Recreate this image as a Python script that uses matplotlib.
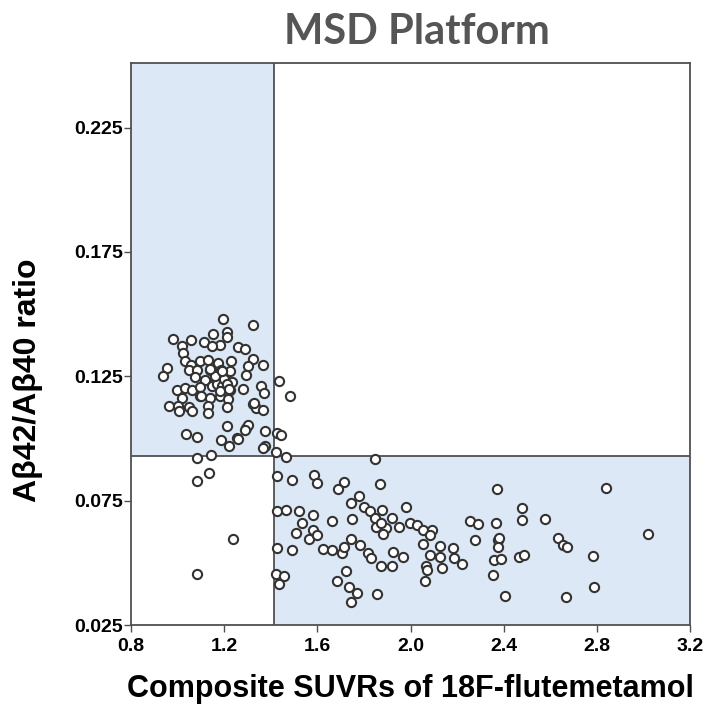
import numpy as np
import matplotlib.pyplot as plt

# upper-left cluster (low SUVR, high ratio)
cluster_x = [1.194, 1.322, 0.979, 1.056, 1.113, 1.151, 1.214, 1.211, 1.182, 1.146,
             1.018, 1.025, 1.261, 1.290, 1.032, 1.056, 1.096, 1.132, 1.175, 1.228,
             1.322, 1.365, 0.956, 0.936, 1.050, 1.085, 1.139, 1.185, 1.225, 1.304,
             1.294, 1.075, 1.118, 1.161, 1.204, 1.232, 1.435, 1.357, 1.371, 1.483,
             0.996, 1.032, 1.060, 1.096, 1.146, 1.189, 1.225, 1.279, 1.018, 1.096,
             1.139, 1.182, 1.218, 0.965, 1.003, 1.050, 1.132, 1.211, 1.008, 1.060,
             1.132, 1.325, 1.337, 1.368, 1.214, 1.294, 1.304, 1.036, 1.082, 1.185,
             1.222, 1.257, 1.375, 1.425, 1.442, 1.170, 1.190, 1.200, 1.180, 1.210,
             1.160, 1.190, 1.220, 1.140, 1.100, 1.258, 1.373, 1.330, 1.289]
cluster_y = [0.1480, 0.1455, 0.1400, 0.1397, 0.1390, 0.1420, 0.1427, 0.1408, 0.1377, 0.1370,
             0.1370, 0.1343, 0.1367, 0.1359, 0.1310, 0.1296, 0.1310, 0.1314, 0.1303, 0.1310,
             0.1319, 0.1296, 0.1283, 0.1252, 0.1274, 0.1276, 0.1274, 0.1274, 0.1270, 0.1290,
             0.1256, 0.1247, 0.1236, 0.1243, 0.1236, 0.1229, 0.1232, 0.1212, 0.1182, 0.1169,
             0.1196, 0.1202, 0.1196, 0.1207, 0.1212, 0.1202, 0.1196, 0.1198, 0.1162, 0.1169,
             0.1162, 0.1169, 0.1158, 0.1129, 0.1131, 0.1126, 0.1131, 0.1126, 0.1109, 0.1109,
             0.1102, 0.1139, 0.1122, 0.1115, 0.1051, 0.1042, 0.1055, 0.1019, 0.1008, 0.0995,
             0.0971, 0.1001, 0.1031, 0.1024, 0.1015, 0.1220, 0.1210, 0.1240, 0.1190, 0.1220,
             0.1250, 0.1270, 0.1200, 0.1280, 0.1170, 0.0997, 0.0968, 0.1142, 0.1035]

# rest of the subjects
other_x = [1.368, 1.423, 1.466, 1.848, 1.428, 1.490, 1.586, 1.597, 1.715, 1.690,
           1.869, 1.780, 1.743, 1.981, 1.798, 1.826, 1.876, 1.848, 1.428, 1.466,
           1.523, 1.580, 1.662, 1.748, 1.533, 1.919, 1.852, 1.895, 1.883, 1.952,
           1.998, 2.029, 2.055, 2.091, 2.084, 2.253, 2.291, 1.508, 1.583, 1.566,
           1.597, 1.743, 1.783, 1.428, 1.490, 1.626, 1.662, 1.704, 1.715, 1.819,
           1.829, 1.924, 1.969, 2.052, 2.127, 2.181, 2.084, 2.127, 2.184, 2.220,
           2.277, 1.872, 1.919, 2.067, 2.070, 2.134, 1.423, 1.457, 1.437, 1.723,
           1.686, 1.737, 1.769, 1.855, 2.060, 1.743, 1.872,
           2.370, 2.840, 2.367, 2.477, 2.477, 2.578, 2.373, 2.381, 2.373, 2.359,
           2.387, 2.467, 2.485, 2.631, 2.653, 2.671, 2.782, 3.017, 2.353, 2.788,
           2.406, 2.668,
           1.082, 1.142, 1.085, 1.135, 1.239, 1.082]
other_y = [0.0961, 0.0944, 0.0925, 0.0917, 0.0850, 0.0834, 0.0854, 0.0820, 0.0824, 0.0796,
           0.0816, 0.0769, 0.0742, 0.0724, 0.0726, 0.0709, 0.0713, 0.0679, 0.0709, 0.0713,
           0.0709, 0.0691, 0.0669, 0.0675, 0.0662, 0.0679, 0.0643, 0.0639, 0.0615, 0.0643,
           0.0662, 0.0652, 0.0632, 0.0632, 0.0612, 0.0669, 0.0655, 0.0619, 0.0632, 0.0595,
           0.0610, 0.0595, 0.0572, 0.0559, 0.0552, 0.0556, 0.0552, 0.0541, 0.0563, 0.0538,
           0.0518, 0.0545, 0.0525, 0.0575, 0.0569, 0.0559, 0.0532, 0.0525, 0.0518, 0.0494,
           0.0592, 0.0487, 0.0487, 0.0487, 0.0471, 0.0481, 0.0454, 0.0447, 0.0414, 0.0467,
           0.0427, 0.0404, 0.0380, 0.0373, 0.0427, 0.0344, 0.0659,
           0.0797, 0.0800, 0.0659, 0.0720, 0.0673, 0.0675, 0.0592, 0.0599, 0.0563, 0.0512,
           0.0516, 0.0522, 0.0532, 0.0599, 0.0572, 0.0563, 0.0529, 0.0615, 0.0451, 0.0402,
           0.0368, 0.0361,
           0.0921, 0.0932, 0.0831, 0.0860, 0.0595, 0.0454]

suvr_cut = 1.414
ratio_cut = 0.093
xlim = (0.8, 3.2)
ylim = (0.025, 0.251)
xticks = [0.8, 1.2, 1.6, 2.0, 2.4, 2.8, 3.2]
yticks = [0.025, 0.075, 0.125, 0.175, 0.225]

x = np.array(cluster_x + other_x)
y = np.array(cluster_y + other_y)

fig = plt.figure(figsize=(7.08, 7.06), dpi=100)
ax = fig.add_axes([0.185, 0.1147, 0.79, 0.7961])

shade = '#dce8f5'
ax.axvspan(xlim[0], suvr_cut, ymin=(ratio_cut - ylim[0]) / (ylim[1] - ylim[0]), ymax=1,
           color=shade, lw=0, zorder=0)
ax.axvspan(suvr_cut, xlim[1], ymin=0, ymax=(ratio_cut - ylim[0]) / (ylim[1] - ylim[0]),
           color=shade, lw=0, zorder=0)
ax.axvline(suvr_cut, color='#505050', lw=1.3, zorder=1)
ax.axhline(ratio_cut, color='#505050', lw=1.3, zorder=1)

ax.scatter(x, y, s=44, facecolor='white', edgecolor='#333333', linewidths=1.5, zorder=3)

ax.set_xlim(*xlim)
ax.set_ylim(*ylim)
ax.set_xticks(xticks)
ax.set_yticks(yticks)
ax.set_xticklabels([f'{v:.1f}' for v in xticks])
ax.set_yticklabels([f'{v:.3f}' for v in yticks])
for sp in ax.spines.values():
    sp.set_color('#505050')
    sp.set_linewidth(1.3)
ax.tick_params(direction='out', length=5, width=1, color='#505050', labelsize=14)
ax.tick_params(axis='x', pad=4)
ax.tick_params(axis='y', pad=1)
for lab in ax.get_xticklabels() + ax.get_yticklabels():
    lab.set_fontweight('bold')
    lab.set_family('Liberation Sans')

ax.set_xlabel('Composite SUVRs of 18F-flutemetamol', fontsize=22, fontweight='bold',
              family='Liberation Sans', labelpad=14)
ax.set_ylabel('Aβ42/Aβ40 ratio', fontsize=23, fontweight='bold',
              family='Liberation Sans')
ax.yaxis.set_label_coords(-0.158, 0.435)
fig.text(0.589, 0.955, 'MSD Platform', ha='center', va='center', fontsize=30,
         fontweight='bold', color='#555555', family='Lato')

fig.savefig('out.png', dpi=100)
